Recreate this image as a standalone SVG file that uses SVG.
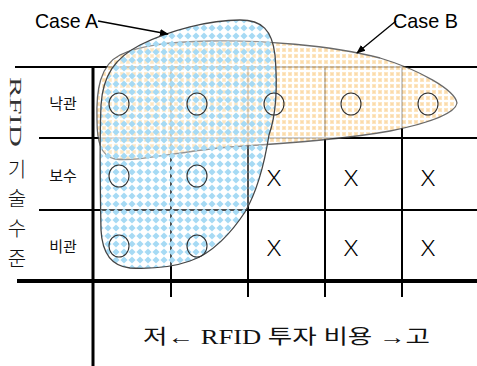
<svg xmlns="http://www.w3.org/2000/svg" width="477" height="366" viewBox="0 0 477 366">
<style>
.g{stroke:#000;stroke-width:2;fill:none}
.gt{stroke:#000;stroke-width:4;fill:none}
.c{fill:none;stroke:#333;stroke-width:1.1}
.blob{stroke:#444;stroke-width:1.3}
.lbl{font-family:"Noto Sans CJK KR","Liberation Sans",sans-serif;font-size:15px;fill:#111;text-anchor:middle;dominant-baseline:central}
.big{font-family:"Noto Sans CJK KR","Liberation Sans",sans-serif;font-size:20px;font-weight:300;fill:#111;text-anchor:middle;dominant-baseline:central}
.x{font-family:"Noto Sans","Liberation Sans",sans-serif;font-size:22px;font-weight:300;fill:#000;text-anchor:middle;dominant-baseline:central}
.case{font-family:"Liberation Sans",sans-serif;font-size:21px;fill:#000}
.arr{stroke:#000;stroke-width:1.3;fill:none;marker-end:url(#ah)}
</style>
<defs>
<pattern id="pb" width="8" height="8" patternUnits="userSpaceOnUse">
<rect width="8" height="8" fill="#fff" fill-opacity="0.3"/>
<polygon points="4,0.4 7.6,4 4,7.6 0.4,4" fill="#a6daf4"/>
</pattern>
<pattern id="po" width="6" height="6" patternUnits="userSpaceOnUse">
<rect width="6" height="6" fill="#fff"/>
<rect x="0" y="0" width="4" height="4" fill="#fde0b4"/>
<rect x="1" y="1" width="2" height="2" fill="#fbd397"/>
</pattern>
<marker id="ah" viewBox="0 0 10 10" refX="9" refY="5" markerWidth="9" markerHeight="9" orient="auto" markerUnits="userSpaceOnUse">
<path d="M0,1 L10,5 L0,9 Z" fill="#000"/>
</marker>
</defs>
<rect width="477" height="366" fill="#fff"/>

<g id="grid">
<line class="g" x1="15" y1="67" x2="477" y2="67"/>
<line class="g" x1="39" y1="138" x2="477" y2="138"/>
<line class="g" x1="39" y1="210" x2="477" y2="210"/>
<line class="gt" x1="17" y1="281" x2="477" y2="281"/>
<line stroke="#000" stroke-width="3" x1="93" y1="67" x2="93" y2="366"/>
<line class="g" x1="171" y1="67" x2="171" y2="297"/>
<line class="g" x1="248" y1="67" x2="248" y2="297"/>
<line class="g" x1="325" y1="67" x2="325" y2="297"/>
<line class="g" x1="402" y1="67" x2="402" y2="297"/>
</g>

<g id="caseB" opacity="0.8">
<path class="blob" fill="url(#po)" d="M97,120 C96,90 100,65 120,55 C140,45 170,42 210,41 C260,40 330,45 380,58 C420,70 455,90 457,103 C455,115 420,125 390,131 C340,140 280,144 230,147 C180,151 140,162 115,159 C100,156 97,140 97,120 Z"/>
</g>
<g id="caseA">
<path class="blob" fill="url(#pb)" d="M101,230 C100,180 100,130 101,105 C103,75 115,58 140,45 C170,30 210,20 240,20 C262,20 272,30 275,55 C278,90 276,115 269,135 C265,160 258,190 245,212 C232,232 212,254 190,261 C170,268 150,269 130,268 C110,266 102,250 101,230 Z"/>
</g>

<g id="circles">
<ellipse class="c" cx="119" cy="104" rx="10" ry="11"/>
<ellipse class="c" cx="197" cy="104" rx="10" ry="11"/>
<ellipse class="c" cx="274" cy="104" rx="10" ry="11"/>
<ellipse class="c" cx="351" cy="104" rx="10" ry="11"/>
<ellipse class="c" cx="428" cy="104" rx="10" ry="11"/>
<ellipse class="c" cx="119" cy="176" rx="10" ry="11"/>
<ellipse class="c" cx="197" cy="176" rx="10" ry="11"/>
<ellipse class="c" cx="119" cy="246" rx="10" ry="11"/>
<ellipse class="c" cx="197" cy="246" rx="10" ry="11"/>
</g>

<g id="xs">
<text class="x" x="274" y="177" textLength="14" lengthAdjust="spacingAndGlyphs">X</text>
<text class="x" x="351" y="177" textLength="14" lengthAdjust="spacingAndGlyphs">X</text>
<text class="x" x="428" y="177" textLength="14" lengthAdjust="spacingAndGlyphs">X</text>
<text class="x" x="274" y="247" textLength="14" lengthAdjust="spacingAndGlyphs">X</text>
<text class="x" x="351" y="247" textLength="14" lengthAdjust="spacingAndGlyphs">X</text>
<text class="x" x="428" y="247" textLength="14" lengthAdjust="spacingAndGlyphs">X</text>
</g>

<g id="rowlabels">
<text class="lbl" x="63" y="102">낙관</text>
<text class="lbl" x="63" y="174">보수</text>
<text class="lbl" x="63" y="245">비관</text>
</g>

<g id="yaxis">
<text transform="translate(15,112) rotate(90)" font-family="Liberation Serif,serif" font-size="17" text-anchor="middle" dominant-baseline="central" textLength="70" lengthAdjust="spacingAndGlyphs" fill="#333">RFID</text>
<text class="big" x="17" y="168">기</text>
<text class="big" x="17" y="197">술</text>
<text class="big" x="17" y="227">수</text>
<text class="big" x="17" y="257">준</text>
</g>

<g id="xaxis">
<text x="143" y="337" font-family="Liberation Serif,'Noto Sans CJK KR',serif" font-size="20" dominant-baseline="central" textLength="287" lengthAdjust="spacingAndGlyphs" fill="#111">저← RFID 투자 비용 →고</text>
</g>

<g id="connectors">
<line class="arr" x1="98" y1="21" x2="168" y2="34"/>
<line class="arr" x1="396" y1="21" x2="357" y2="53"/>
</g>

<g id="labels">
<text class="case" x="35" y="28" textLength="63" lengthAdjust="spacingAndGlyphs">Case A</text>
<text class="case" x="393" y="28" textLength="65" lengthAdjust="spacingAndGlyphs">Case B</text>
</g>
</svg>
